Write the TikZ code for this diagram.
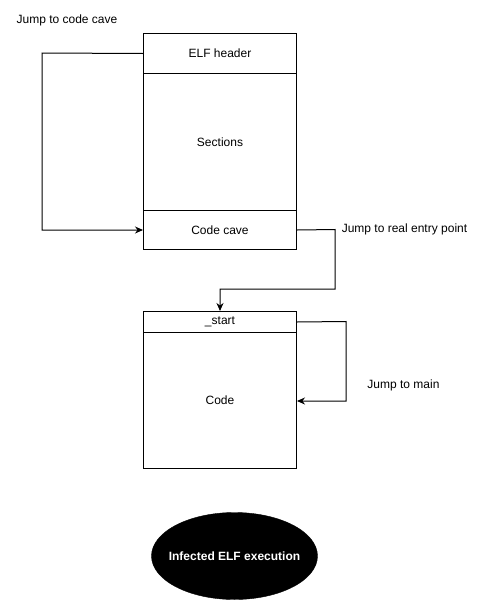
\documentclass[tikz,border=0pt]{standalone}
\usepackage{fontspec}
\setmainfont{Liberation Sans}
\usetikzlibrary{arrows.meta,shapes.geometric}
\begin{document}
\begin{tikzpicture}[x=1pt,y=-1pt,
  every node/.style={font=\fontsize{12}{14}\selectfont},
  cell/.style={draw,line width=1pt,minimum width=153pt,inner sep=0pt,anchor=north west},
  conn/.style={line width=1pt,-{Stealth[length=8pt,width=7pt]}},
  lbl/.style={inner sep=0pt}]
\useasboundingbox (0,0) rectangle (485,616);
% ELF file
\node[cell,minimum height=40pt] (hdr) at (143,33) {ELF header};
\node[cell,minimum height=137pt] (sec) at (143,73) {Sections};
\node[cell,minimum height=39pt] (cave) at (143,210) {Code cave};
% process
\node[cell,minimum height=21pt] (start) at (143,311) {\_start};
\node[cell,minimum height=136pt] (code) at (143,332) {Code};
% labels
\node[lbl] (l1) at (67,20) {Jump to code cave};
\node[lbl] (l2) at (404.5,229) {Jump to real entry point};
\node[lbl] (l3) at (403.5,385) {Jump to main};
% connectors
\coordinate (a1) at (42,53);
\coordinate (a2) at (42,230);
\draw[conn] (hdr.west) -- (a1) -- (a2) -- (cave.west);
\coordinate (b1) at (335,229.5);
\coordinate (b2) at (335,289);
\coordinate (b3) at (220,289);
\draw[conn] (cave.east) -- (b1) -- (b2) -- (b3) -- (start.north);
\coordinate (c1) at (346,321.5);
\coordinate (c2) at (346,401);
\draw[conn] (start.east) -- (c1) -- (c2) -- (code.east |- c2);
% ellipse
\node[ellipse,fill=black,draw=black,minimum width=166pt,minimum height=87pt,inner sep=0pt,
  label={[text=white,font=\fontsize{12}{14}\selectfont\bfseries]center:Infected ELF execution}] (inf) at (234.5,556) {};
\end{tikzpicture}
\end{document}
